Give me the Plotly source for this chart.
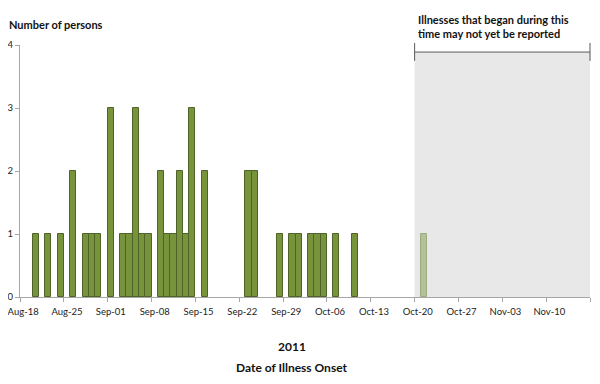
import plotly.graph_objects as go
import pandas as pd

# Reported cases by date of illness onset (2011)
onset_dates = ["2011-08-20", "2011-08-22", "2011-08-24", "2011-08-26", "2011-08-28",
               "2011-08-29", "2011-08-30", "2011-09-01", "2011-09-03", "2011-09-04",
               "2011-09-05", "2011-09-06", "2011-09-07", "2011-09-09", "2011-09-10",
               "2011-09-11", "2011-09-12", "2011-09-13", "2011-09-14", "2011-09-16",
               "2011-09-23", "2011-09-24", "2011-09-28", "2011-09-30", "2011-10-01",
               "2011-10-03", "2011-10-04", "2011-10-05", "2011-10-07", "2011-10-10"]
persons = [1, 1, 1, 2, 1,
           1, 1, 3, 1, 1,
           3, 1, 1, 2, 1,
           1, 2, 1, 3, 2,
           2, 2, 1, 1, 1,
           1, 1, 1, 1, 1]

# Illnesses in the not-yet-reported window
late_dates = ["2011-10-21"]
late_persons = [1]

tick_dates = ["2011-08-18", "2011-08-25", "2011-09-01", "2011-09-08", "2011-09-15",
              "2011-09-22", "2011-09-29", "2011-10-06", "2011-10-13", "2011-10-20",
              "2011-10-27", "2011-11-03", "2011-11-10"]
tick_labels = ["Aug-18", "Aug-25", "Sep-01", "Sep-08", "Sep-15", "Sep-22", "Sep-29",
               "Oct-06", "Oct-13", "Oct-20", "Oct-27", "Nov-03", "Nov-10"]

x_start = "2011-08-17 12:00"
x_end = "2011-11-16 12:00"
gray_start = "2011-10-19 12:00"

DAY_MS = 86400000
FONT = "Lato, Open Sans, sans-serif"

fig = go.Figure()
fig.add_trace(go.Bar(x=onset_dates, y=persons, width=DAY_MS,
                     marker=dict(color="#77933C", line=dict(color="#4F6228", width=1)),
                     showlegend=False, hoverinfo="x+y"))
fig.add_trace(go.Bar(x=late_dates, y=late_persons, width=DAY_MS,
                     marker=dict(color="#B3C19B", line=dict(color="#9DAD83", width=1)),
                     showlegend=False, hoverinfo="x+y"))
# invisible trace for tick-mark axis
fig.add_trace(go.Scatter(x=[x_start, x_end], y=[0, 0], xaxis="x2", mode="markers",
                         marker=dict(opacity=0), showlegend=False, hoverinfo="skip"))

tick_marks = [(pd.Timestamp(d) - pd.Timedelta(hours=12)).strftime("%Y-%m-%d %H:%M")
              for d in tick_dates] + [x_end]

fig.update_layout(
    width=600, height=384,
    margin=dict(l=12, r=18, t=37, b=95),
    paper_bgcolor="white", plot_bgcolor="white",
    bargap=0,
    font=dict(family=FONT, size=10, color="#222"),
    xaxis=dict(type="date", range=[x_start, x_end], tickvals=tick_dates, ticktext=tick_labels,
               ticks="", showgrid=False, zeroline=False, showline=True, linecolor="#A6A6A6",
               linewidth=1, tickfont=dict(size=9.5, family=FONT), ticklabelstandoff=6,
               ticklabeloverflow="allow", automargin=False),
    xaxis2=dict(type="date", range=[x_start, x_end], overlaying="x", anchor="y",
                tickvals=tick_marks, showticklabels=False, ticks="outside", ticklen=4,
                tickcolor="#A6A6A6", showgrid=False, zeroline=False, showline=False,
                side="bottom", automargin=False),
    yaxis=dict(range=[0, 4], tickvals=[0, 1, 2, 3, 4], showgrid=False, zeroline=False,
               showline=True, linecolor="#A6A6A6", ticks="outside", ticklen=4,
               tickcolor="#A6A6A6", tickfont=dict(size=9.5, family=FONT), automargin=False),
    shapes=[
        dict(type="rect", xref="x", yref="paper", x0=gray_start, x1=x_end, y0=0, y1=0.972,
             fillcolor="#E8E8E8", line=dict(width=0), layer="below"),
        dict(type="line", xref="x", yref="paper", x0=gray_start, x1=x_end, y0=0.972, y1=0.972,
             line=dict(color="#595959", width=1)),
        dict(type="line", xref="x", yref="paper", x0=gray_start, x1=gray_start, y0=0.937, y1=1.008,
             line=dict(color="#595959", width=1)),
        dict(type="line", xref="paper", yref="paper", x0=1, x1=1, y0=0.937, y1=1.008,
             line=dict(color="#595959", width=1)),
    ],
    annotations=[
        dict(text="<b>Number of persons</b>", xref="paper", yref="paper", x=-0.023, y=1.083,
             xanchor="left", yanchor="middle", showarrow=False, font=dict(size=11, color="#111")),
        dict(text="<b>Illnesses that began during this<br>time may not yet be reported</b>",
             xref="x", yref="paper", x=gray_start, y=1.01, xanchor="left", yanchor="bottom",
             align="left", showarrow=False, xshift=1, font=dict(size=11, color="#111")),
        dict(text="<b>2011</b>", xref="paper", yref="paper", x=0.477, y=-0.196,
             xanchor="center", yanchor="middle", showarrow=False, font=dict(size=12, color="#111")),
        dict(text="<b>Date of Illness Onset</b>", xref="paper", yref="paper", x=0.477, y=-0.28,
             xanchor="center", yanchor="middle", showarrow=False, font=dict(size=12, color="#111")),
    ],
)

fig.write_html("out.html")
